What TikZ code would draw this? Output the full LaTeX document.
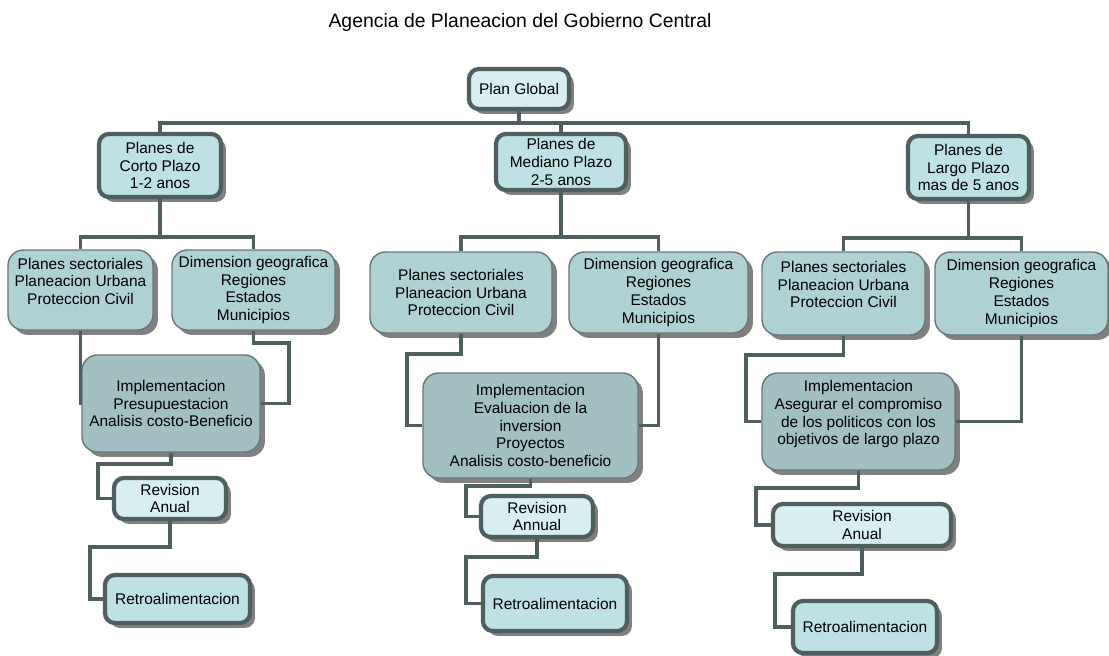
\documentclass[tikz,border=0pt]{standalone}
\usepackage{fontspec}
\setmainfont{Liberation Sans}
\usetikzlibrary{shadows,calc}

\newcommand{\pxu}{0.025cm}
\definecolor{linec}{RGB}{79,95,95}
\definecolor{palefill}{RGB}{217,238,240}
\definecolor{lightfill}{RGB}{189,225,228}
\definecolor{midfill}{RGB}{174,209,212}
\definecolor{darkfill}{RGB}{162,192,194}
\definecolor{shadowc}{RGB}{128,128,128}

\begin{document}
\begin{tikzpicture}[x = 0.025cm, y = -0.025cm,
	every node/.style = {font = \fontsize{11}{12.6}\selectfont, align = center},
	sz/.style 2 args = {minimum width = #1*\pxu, minimum height = #2*\pxu},
	boxshadow/.style = {drop shadow = {fill = shadowc, opacity = 1, shadow xshift = 3.5pt, shadow yshift = -3.5pt}},
	thickbox/.style = {draw = linec, line width = 3pt, rounded corners = 7pt, inner sep = 2pt, boxshadow},
	thinbox/.style = {draw = linec!85, line width = 1pt, rounded corners = 11pt, fill = midfill, inner sep = 2pt, boxshadow},
	link/.style = {draw = linec, line width = 2.6pt}]
	\useasboundingbox (0,0) rectangle (1109,656);
	
	\node (title) at (520,22) [font = \fontsize{13.8}{16}\selectfont] {Agencia de Planeacion del Gobierno Central};
	
	% connector ends
	\coordinate (bus) at (519,123);
	\coordinate (cbus) at (160,237);
	\coordinate (mbus) at (561,237);
	\coordinate (lbus) at (968.5,238);
	
	\node[thickbox, fill = palefill, sz = {100}{40}] (global) at (519,89) {Plan Global};
	\node[thickbox, fill = lightfill, sz = {122}{63}] (corto) at (160,165.5) {Planes de\\Corto Plazo\\1-2 anos};
	\node[thickbox, fill = lightfill, sz = {130}{56}] (mediano) at (561,162) {Planes de\\Mediano Plazo\\2-5 anos};
	\node[thickbox, fill = lightfill, sz = {121}{63}] (largo) at (968.5,167.5) {Planes de\\Largo Plazo\\mas de 5 anos};
	
	% corto plazo
	\node[thinbox, sz = {145}{80}] (cps) at (80.5,290) {Planes sectoriales\\Planeacion Urbana\\Proteccion Civil\\\mbox{}};
	\node[thinbox, sz = {163}{80}] (cdg) at (253.5,290) {Dimension geografica\\Regiones\\Estados\\Municipios};
	\node[thinbox, fill = darkfill, sz = {178}{97}] (cimp) at (171,403.5) {Implementacion\\Presupuestacion\\Analisis costo-Beneficio};
	\node[thickbox, fill = palefill, sz = {112}{41}] (crev) at (170,498.5) {Revision\\Anual};
	\node[thickbox, fill = lightfill, sz = {145}{48}] (cret) at (177.5,599) {Retroalimentacion};
	
	% mediano plazo
	\node[thinbox, sz = {182}{81}] (mps) at (461,292.5) {Planes sectoriales\\Planeacion Urbana\\Proteccion Civil};
	\node[thinbox, sz = {179}{81}] (mdg) at (658.5,292.5) {Dimension geografica\\Regiones\\Estados\\Municipios};
	\node[thinbox, fill = darkfill, sz = {215}{105}] (mimp) at (530.5,425.5) {Implementacion\\Evaluacion de la\\inversion\\Proyectos\\Analisis costo-beneficio};
	\node[thickbox, fill = palefill, sz = {112}{41}] (mrev) at (537,516.5) {Revision\\Annual};
	\node[thickbox, fill = lightfill, sz = {144}{55}] (mret) at (555,603.5) {Retroalimentacion};
	
	% largo plazo
	\node[thinbox, sz = {163}{83}] (lps) at (843.5,293.5) {Planes sectoriales\\Planeacion Urbana\\Proteccion Civil\\\mbox{}};
	\node[thinbox, sz = {173}{83}] (ldg) at (1021.5,293.5) {Dimension geografica\\Regiones\\Estados\\Municipios};
	\node[thinbox, fill = darkfill, sz = {193}{97}] (limp) at (858.5,421.5) {Implementacion\\Asegurar el compromiso\\de los politicos con los\\objetivos de largo plazo\\\mbox{}};
	\node[thickbox, fill = palefill, sz = {178}{42}] (lrev) at (862,525) {Revision\\Anual};
	\node[thickbox, fill = lightfill, sz = {144}{52}] (lret) at (865,627) {Retroalimentacion};
	
	% top level
	\draw[link] (global.south) -- (bus);
	\draw[link] (corto.north) |- (bus) -| (largo.north);
	\draw[link] (mediano.north) -- (mediano.north |- bus);
	
	\draw[link] (corto.south) -- (cbus);
	\draw[link] (cps.north) |- (cbus) -| (cdg.north);
	\draw[link] (mediano.south) -- (mbus);
	\draw[link] (mps.north) |- (mbus) -| (mdg.north);
	\draw[link] (largo.south) -- (lbus);
	\draw[link] (lps.north) |- (lbus) -| (ldg.north);
	
	% corto chain
	\draw[link] (cps.south) |- (cimp.west);
	\draw[link] (cdg.south) -- ++(0,12) -| ($(cimp.east)+(28,0)$) -- (cimp.east);
	\draw[link] (cimp.south) -- ++(0,11) -| ($(crev.west)+(-14,0)$) -- (crev.west);
	\draw[link] (crev.south) -- ++(0,26) -| ($(cret.west)+(-13,0)$) -- (cret.west);
	
	% mediano chain
	\draw[link] (mps.south) -- ++(0,20) -| ($(mimp.west)+(-15,0)$) -- (mimp.west);
	\draw[link] (mdg.south) |- (mimp.east);
	\draw[link] (mimp.south) -- ++(0,7) -| ($(mrev.west)+(-13,0)$) -- (mrev.west);
	\draw[link] (mrev.south) -- ++(0,18) -| ($(mret.west)+(-15,0)$) -- (mret.west);
	
	% largo chain
	\draw[link] (lps.south) -- ++(0,19) -| ($(limp.west)+(-15,0)$) -- (limp.west);
	\draw[link] (ldg.south) |- (limp.east);
	\draw[link] (limp.south) -- ++(0,17) -| ($(lrev.west)+(-15,0)$) -- (lrev.west);
	\draw[link] (lrev.south) -- ++(0,26) -| ($(lret.west)+(-16,0)$) -- (lret.west);
\end{tikzpicture}
\end{document}
